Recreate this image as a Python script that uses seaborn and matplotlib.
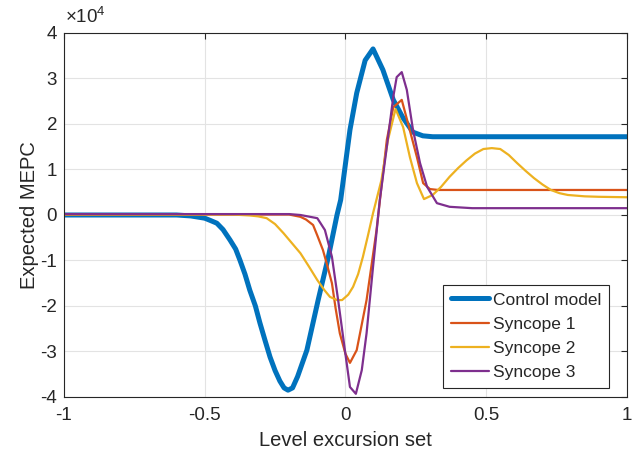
import numpy as np
import pandas as pd
import matplotlib
matplotlib.use("Agg")
import matplotlib.pyplot as plt
import seaborn as sns
from matplotlib.ticker import FuncFormatter

# curve samples (y in units of 1e4)
ctrl_x = [-1, -0.6, -0.55, -0.52, -0.5, -0.48, -0.457, -0.435, -0.41, -0.39, -0.375, -0.357,
          -0.34, -0.32, -0.304, -0.286, -0.268, -0.25, -0.233, -0.218, -0.204, -0.188,
          -0.17, -0.137, -0.097, -0.06, -0.03, -0.017, 0.016, 0.04, 0.07, 0.098, 0.133,
          0.17, 0.205, 0.24, 0.275, 0.31, 1]
ctrl_y = [0.0, 0.0, -0.02, -0.05, -0.07, -0.12, -0.18, -0.32, -0.55, -0.75, -0.99, -1.3,
          -1.65, -2.0, -2.37, -2.75, -3.12, -3.42, -3.65, -3.8, -3.85, -3.8,
          -3.55, -2.97, -1.87, -0.9, 0.0, 0.33, 1.87, 2.68, 3.4, 3.65, 3.19,
          2.53, 2.13, 1.82, 1.74, 1.72, 1.72]

syn1_x = [-1, -0.2, -0.16, -0.14, -0.115, -0.1, -0.08, -0.065, -0.048, -0.035, -0.02, 0.0,
          0.016, 0.04, 0.075, 0.11, 0.147, 0.17, 0.2, 0.222, 0.254, 0.276, 0.3, 0.33, 1]
syn1_y = [0.01, 0.01, -0.04, -0.1, -0.22, -0.45, -0.77, -1.1, -1.5, -2.05, -2.6, -3.05,
          -3.25, -2.97, -1.87, -0.35, 1.65, 2.37, 2.53, 2.02, 1.27, 0.7, 0.57, 0.55, 0.55]

syn2_x = [-1, -0.4, -0.34, -0.31, -0.28, -0.25, -0.22, -0.19, -0.16, -0.13, -0.1, -0.075,
          -0.055, -0.03, -0.012, 0.01, 0.027, 0.045, 0.062, 0.08, 0.098, 0.128, 0.151,
          0.178, 0.205, 0.229, 0.254, 0.279, 0.31, 0.34, 0.37, 0.4, 0.43, 0.46, 0.49,
          0.52, 0.55, 0.58, 0.61, 0.64, 0.67, 0.7, 0.73, 0.76, 0.79, 0.85, 0.9, 1]
syn2_y = [0.01, 0.01, -0.01, -0.03, -0.07, -0.2, -0.4, -0.62, -0.84, -1.13, -1.43, -1.65,
          -1.8, -1.87, -1.87, -1.75, -1.58, -1.3, -0.92, -0.45, 0.04, 0.77, 1.65,
          2.33, 1.93, 1.27, 0.7, 0.35, 0.44, 0.62, 0.84, 1.03, 1.2, 1.35, 1.45,
          1.47, 1.45, 1.32, 1.14, 0.97, 0.81, 0.67, 0.55, 0.48, 0.44, 0.41, 0.4, 0.39]

syn3_x = [-1, -0.2, -0.16, -0.1, -0.073, -0.048, -0.026, -0.002, 0.016, 0.037, 0.058, 0.075,
          0.098, 0.122, 0.147, 0.17, 0.182, 0.2, 0.218, 0.24, 0.265, 0.29, 0.325, 0.37,
          0.45, 1]
syn3_y = [0.02, 0.02, 0.0, -0.07, -0.33, -0.92, -1.87, -2.97, -3.78, -3.93, -3.41, -2.6,
          -1.14, 0.33, 1.5, 2.6, 3.03, 3.14, 2.75, 1.87, 1.14, 0.62, 0.26, 0.18,
          0.15, 0.15]

names = ["Control model", "Syncope 1", "Syncope 2", "Syncope 3"]
colors = ["#0072BD", "#D95319", "#EDB120", "#7E2F8E"]
widths = [3.6, 1.6, 1.6, 1.6]

xticks = [-1, -0.5, 0, 0.5, 1]
yticks = [-4, -3, -2, -1, 0, 1, 2, 3, 4]

sns.set_theme(style="whitegrid")
plt.rcParams['font.family'] = ['Liberation Sans', 'DejaVu Sans']
plt.rcParams['axes.unicode_minus'] = False
plt.rcParams['mathtext.fontset'] = 'custom'
plt.rcParams['mathtext.rm'] = 'Liberation Sans'

series = [(ctrl_x, ctrl_y), (syn1_x, syn1_y), (syn2_x, syn2_y), (syn3_x, syn3_y)]

fig = plt.figure(figsize=(6.43, 4.57), dpi=100)
ax = fig.add_axes([0.0995, 0.1313, 0.8755, 0.7965])

for (xs, ys), name, c, lw in zip(series, names, colors, widths):
    d = pd.DataFrame({"x": xs, "y": np.array(ys) * 1e4})
    sns.lineplot(data=d, x="x", y="y", ax=ax, color=c, linewidth=lw, label=name,
                 sort=False, estimator=None)

ax.set_xlim(-1, 1)
ax.set_ylim(-4e4, 4e4)
ax.set_xticks(xticks)
ax.set_yticks([v * 1e4 for v in yticks])
ax.xaxis.set_major_formatter(FuncFormatter(lambda v, p: "%g" % v))
ax.yaxis.set_major_formatter(FuncFormatter(lambda v, p: "%g" % (v / 1e4)))
fig.text(0.101, 0.94, "×10$^{\\mathregular{4}}$", fontsize=13.5, color="#262626",
         ha="left", va="bottom")

ax.set_xlabel("Level excursion set", fontsize=14.5, color="#262626", labelpad=5)
ax.set_ylabel("Expected MEPC", fontsize=14.5, color="#262626", labelpad=1)

ax.set_facecolor("white")
ax.grid(True, color="#e3e3e3", linewidth=0.8)
for s in ax.spines.values():
    s.set_visible(True)
    s.set_color("#262626")
    s.set_linewidth(0.8)
ax.tick_params(direction="in", length=4, width=0.8, color="#262626",
               top=True, right=True, labelsize=13.5, labelcolor="#262626")
ax.tick_params(axis="x", pad=7)
ax.tick_params(axis="y", pad=5)

leg = ax.legend(loc="lower right", bbox_to_anchor=(0.968, 0.025), borderaxespad=0,
                fontsize=12.5, frameon=True, fancybox=False, framealpha=1,
                edgecolor="#262626", handlelength=2.2, handletextpad=0.2,
                labelspacing=0.52, borderpad=0.45)
leg.get_frame().set_linewidth(0.8)

fig.savefig("out.png", dpi=100)
